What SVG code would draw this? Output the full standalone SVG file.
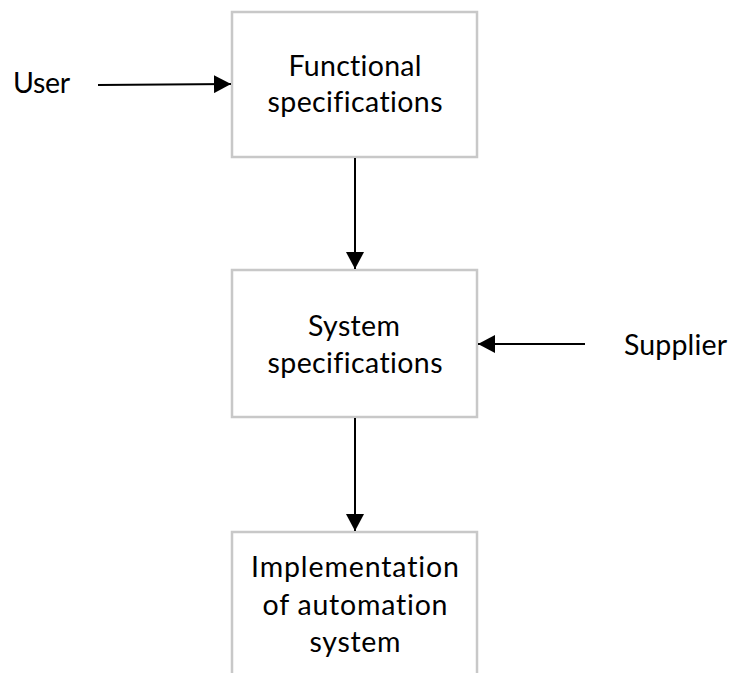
<svg xmlns="http://www.w3.org/2000/svg" width="732" height="673" viewBox="0 0 732 673">
  <style>
    .box { fill: #ffffff; stroke: #c8c8c8; stroke-width: 2.5; }
    .lbl { font-family: "Lato", "Open Sans", "Liberation Sans", sans-serif; font-size: 28.5px; fill: #000000; font-variant-ligatures: none; font-feature-settings: "liga" 0; }
    .mid { text-anchor: middle; }
    .conn { stroke: #000000; stroke-width: 2; fill: none; marker-end: url(#arr); }
  </style>
  <defs>
    <marker id="arr" markerUnits="userSpaceOnUse" markerWidth="18" markerHeight="18" refX="17" refY="9" orient="auto">
      <path d="M0,0 L17,9 L0,18 Z" fill="#000000"/>
    </marker>
  </defs>
  <rect width="732" height="673" fill="#ffffff"/>
  <g id="node-functional">
    <rect class="box" x="232" y="12" width="245" height="145"/>
    <text class="lbl mid" x="355" y="76" textLength="133" lengthAdjust="spacing">Functional</text>
    <text class="lbl mid" x="355" y="112" textLength="175" lengthAdjust="spacing">specifications</text>
  </g>
  <g id="node-system">
    <rect class="box" x="232" y="270" width="245" height="147"/>
    <text class="lbl mid" x="354" y="336" textLength="92" lengthAdjust="spacing">System</text>
    <text class="lbl mid" x="355" y="373" textLength="175" lengthAdjust="spacing">specifications</text>
  </g>
  <g id="node-implementation">
    <rect class="box" x="232" y="532" width="245" height="160"/>
    <text class="lbl mid" x="355" y="577" textLength="208" lengthAdjust="spacing">Implementation</text>
    <text class="lbl mid" x="355" y="615" textLength="185" lengthAdjust="spacing">of automation</text>
    <text class="lbl mid" x="355" y="652" textLength="91" lengthAdjust="spacing">system</text>
  </g>
  <g id="node-user">
    <text class="lbl" x="13" y="93" textLength="57" lengthAdjust="spacing">User</text>
  </g>
  <g id="node-supplier">
    <text class="lbl" x="624" y="355" textLength="103" lengthAdjust="spacing">Supplier</text>
  </g>
  <g id="connectors">
    <line class="conn" x1="98" y1="85" x2="231" y2="84"/>
    <line class="conn" x1="585" y1="344" x2="478" y2="344"/>
    <line class="conn" x1="355" y1="158" x2="355" y2="269"/>
    <line class="conn" x1="355" y1="418" x2="355" y2="531"/>
  </g>
</svg>
